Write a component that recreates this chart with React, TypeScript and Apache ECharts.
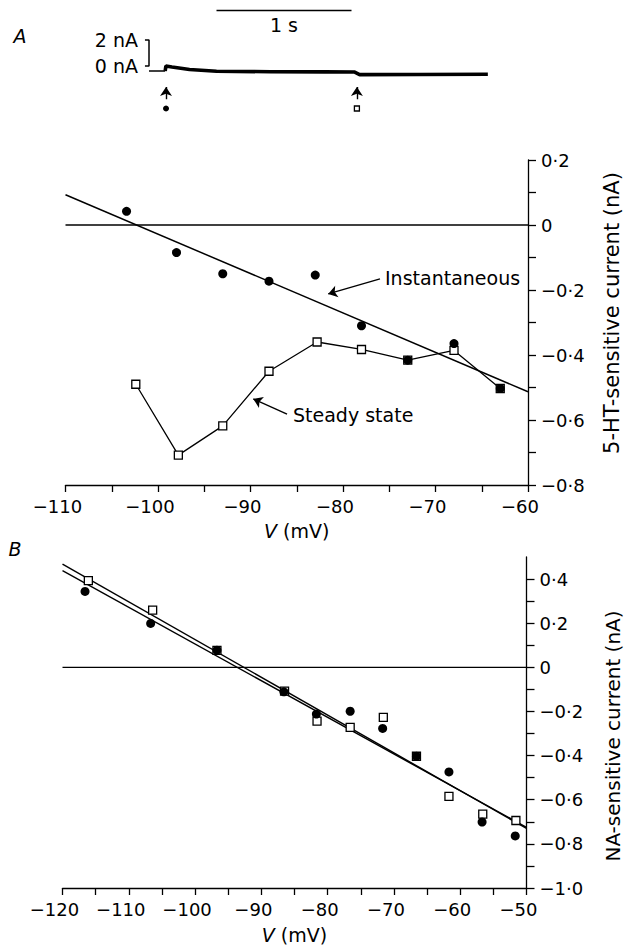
import React, { useEffect, useRef } from 'react';
import * as echarts from 'echarts';

// ---------- Inset current trace (time in s, current in nA) ----------
const traceBaseline = [[0, -0.38], [0.12, -0.38]];
const traceBody = [
  [0.12, -0.38], [0.125, 0.0], [0.17, -0.08], [0.3, -0.27], [0.5, -0.4], [0.9, -0.44],
  [1.3, -0.45], [1.52, -0.46], [1.56, -0.66], [2.0, -0.65], [2.51, -0.63],
];
const scaleBar = [[0.5, 4.27], [1.5, 4.27]];
const bracket = [[-0.03, 2], [0, 2], [0, 0], [-0.03, 0]];
const eventTimes = [0.126, 1.54];
const eventArrowFrom = -2.55;
const eventArrowTo = -1.62;
const eventMarkerLevel = -3.27;

// ---------- Panel A: 5-HT-sensitive current ----------
const vInstA = [-103.4, -98, -93, -88, -83, -78, -73, -68, -63];
const iInstA = [0.042, -0.085, -0.15, -0.173, -0.154, -0.31, -0.416, -0.365, -0.503];
const vSteadyA = [-102.4, -97.8, -93, -88, -82.8, -78, -73, -68, -63];
const iSteadyA = [-0.49, -0.708, -0.618, -0.45, -0.36, -0.383, -0.416, -0.386, -0.503];
const fitA = [[-110, 0.093], [-60, -0.513]];
const arrowInstA = [[-76.0, -0.166], [-81.6, -0.212]];
const arrowSteadyA = [[-86.05, -0.582], [-89.7, -0.535]];

// ---------- Panel B: NA-sensitive current ----------
const vCircB = [-116.6, -106.7, -96.7, -86.6, -81.7, -76.6, -71.7, -66.6, -61.7, -56.7, -51.7];
const iCircB = [0.344, 0.199, 0.077, -0.111, -0.212, -0.199, -0.277, -0.403, -0.474, -0.701, -0.764];
const vSqB = [-116.1, -106.4, -96.7, -86.5, -81.6, -76.6, -71.6, -66.6, -61.7, -56.6, -51.6];
const iSqB = [0.393, 0.259, 0.077, -0.108, -0.244, -0.272, -0.227, -0.403, -0.585, -0.665, -0.694];
const fitSqB = [[-120, 0.468], [-50, -0.73]];
const fitCircB = [[-120, 0.438], [-50, -0.725]];

// ---------- Axis ticks / labels ----------
const xTicksA = [-110, -105, -100, -95, -90, -85, -80, -75, -70, -65, -60];
const xLabelsA = [-110, -100, -90, -80, -70, -60];
const yTicksA = [-0.8, -0.7, -0.6, -0.5, -0.4, -0.3, -0.2, -0.1, 0, 0.1, 0.2];
const yLabelsA = [-0.8, -0.6, -0.4, -0.2, 0, 0.2];
const xTicksB = [-120, -115, -110, -105, -100, -95, -90, -85, -80, -75, -70, -65, -60, -55, -50];
const xLabelsB = [-120, -110, -100, -90, -80, -70, -60, -50];
const yTicksB = [-1.0, -0.9, -0.8, -0.7, -0.6, -0.5, -0.4, -0.3, -0.2, -0.1, 0, 0.1, 0.2, 0.3, 0.4];
const yLabelsB = [-1.0, -0.8, -0.6, -0.4, -0.2, 0, 0.2, 0.4];

const FONT = '"DejaVu Sans", "Liberation Sans", Arial, sans-serif';
const BLACK = '#000';

const fmtNum = (v: number, d: number) => {
  if (Math.abs(v) < 1e-9) return '0';
  return v.toFixed(d).replace('-', '\u2212').replace('.', '\u00b7');
};

const zip = (xs: number[], ys: number[]) => xs.map((x, i) => [x, ys[i]]);

const lineW = { color: BLACK, width: 1.3 };

function xAxisFor(gridIndex: number, min: number, max: number, ticks: number[], labels: number[], nameGap: number) {
  return {
    gridIndex, type: 'value', min, max, position: 'bottom',
    axisLine: { show: true, onZero: false, lineStyle: lineW },
    axisTick: { show: true, customValues: ticks, length: 7, lineStyle: lineW },
    axisLabel: {
      customValues: labels, formatter: (v: number) => fmtNum(v, 0),
      color: BLACK, fontSize: 18, fontFamily: FONT, margin: 12, padding: [0, 16, 0, 0],
    },
    splitLine: { show: false },
    name: '{i|V} (mV)', nameLocation: 'middle', nameGap,
    nameTextStyle: {
      color: BLACK, fontSize: 19, fontFamily: FONT,
      rich: { i: { fontStyle: 'italic', fontSize: 19, fontFamily: FONT, color: BLACK } },
    },
  };
}

function yAxisFor(gridIndex: number, min: number, max: number, ticks: number[], labels: number[]) {
  return {
    gridIndex, type: 'value', min, max, position: 'right',
    axisLine: { show: true, onZero: false, lineStyle: lineW },
    axisTick: { show: true, customValues: ticks, length: 8, lineStyle: lineW },
    axisLabel: {
      customValues: labels, formatter: (v: number) => fmtNum(v, 1),
      color: BLACK, fontSize: 18, fontFamily: FONT, margin: 13,
    },
    splitLine: { show: false },
  };
}

const plainLine = (xi: number, data: number[][], width = 1.3, z = 1) => ({
  type: 'line', xAxisIndex: xi, yAxisIndex: xi, data, symbol: 'none', silent: true, z,
  lineStyle: { color: BLACK, width },
});

const arrow = (xi: number, from: number[], to: number[]) => ({
  type: 'lines', coordinateSystem: 'cartesian2d', xAxisIndex: xi, yAxisIndex: xi,
  symbol: ['none', 'arrow'], symbolSize: 9, silent: true, z: 4,
  lineStyle: { color: BLACK, width: 1.4, opacity: 1 },
  data: [{ coords: [from, to] }],
});

const circles = (xi: number, data: number[][]) => ({
  type: 'scatter', xAxisIndex: xi, yAxisIndex: xi, data, symbol: 'circle', symbolSize: 9,
  itemStyle: { color: BLACK, opacity: 1 }, z: 5, silent: true,
});

const squares = (xi: number, data: number[][]) => ({
  type: 'scatter', xAxisIndex: xi, yAxisIndex: xi, data, symbol: 'rect', symbolSize: 8,
  itemStyle: { color: '#fff', borderColor: BLACK, borderWidth: 1.3, opacity: 1 }, z: 4, silent: true,
});

const txt = (text: string, x: number, y: number, opts: any = {}) => ({
  type: 'text', x, y, rotation: opts.rotation || 0, silent: true,
  style: {
    text, fill: BLACK, fontFamily: FONT, fontSize: opts.fontSize || 19,
    fontStyle: opts.fontStyle || 'normal', align: opts.align || 'left', verticalAlign: 'middle',
  },
});

const option: any = {
  animation: false,
  backgroundColor: '#fff',
  grid: [
    { left: 135.5, top: 7.5, width: 364.5, height: 104, outerBoundsMode: 'none' },
    { left: 65.5, top: 160, width: 462.5, height: 325, outerBoundsMode: 'none' },
    { left: 62.5, top: 557, width: 464, height: 331, outerBoundsMode: 'none' },
  ],
  xAxis: [
    { gridIndex: 0, type: 'value', min: -0.1, max: 2.6, show: false },
    xAxisFor(1, -110, -60, xTicksA, xLabelsA, 36),
    xAxisFor(2, -120, -50, xTicksB, xLabelsB, 37),
  ],
  yAxis: [
    { gridIndex: 0, type: 'value', min: -3.5, max: 4.5, show: false },
    yAxisFor(1, -0.8, 0.2, yTicksA, yLabelsA),
    yAxisFor(2, -1.0, 0.5, yTicksB, yLabelsB),
  ],
  series: [
    // inset
    plainLine(0, traceBaseline, 1.5),
    plainLine(0, traceBody, 3.6),
    plainLine(0, scaleBar, 1.5),
    plainLine(0, bracket, 1.5),
    ...eventTimes.map((t) => arrow(0, [t, eventArrowFrom], [t, eventArrowTo])),
    { ...circles(0, [[eventTimes[0], eventMarkerLevel]]), symbolSize: 6 },
    { ...squares(0, [[eventTimes[1], eventMarkerLevel]]), symbolSize: 5 },
    // panel A
    plainLine(1, [[-110, 0], [-60, 0]], 1.3),
    plainLine(1, fitA, 1.5),
    {
      type: 'line', xAxisIndex: 1, yAxisIndex: 1, data: zip(vSteadyA, iSteadyA),
      symbol: 'rect', symbolSize: 8, showAllSymbol: true, z: 3, silent: true,
      lineStyle: { color: BLACK, width: 1.3 },
      itemStyle: { color: '#fff', borderColor: BLACK, borderWidth: 1.3 },
    },
    circles(1, zip(vInstA, iInstA)),
    arrow(1, arrowInstA[0], arrowInstA[1]),
    arrow(1, arrowSteadyA[0], arrowSteadyA[1]),
    // panel B
    plainLine(2, [[-120, 0], [-50, 0]], 1.3),
    plainLine(2, fitSqB, 1.4),
    plainLine(2, fitCircB, 1.4),
    squares(2, zip(vSqB, iSqB)),
    circles(2, zip(vCircB, iCircB)),
  ],
  graphic: [
    txt('A', 20, 36, { fontStyle: 'italic', fontSize: 19, align: 'center' }),
    txt('B', 15, 549, { fontStyle: 'italic', fontSize: 19, align: 'center' }),
    txt('2 nA', 138, 40, { align: 'right', fontSize: 19 }),
    txt('0 nA', 138, 66, { align: 'right', fontSize: 19 }),
    txt('1 s', 284, 25, { align: 'center', fontSize: 19 }),
    txt('Instantaneous', 385, 278, { fontSize: 19 }),
    txt('Steady state', 293, 415, { fontSize: 19 }),
    txt('5-HT-sensitive current (nA)', 612, 313, { rotation: Math.PI / 2, align: 'center', fontSize: 21 }),
    txt('NA-sensitive current (nA)', 613, 736, { rotation: Math.PI / 2, align: 'center', fontSize: 20 }),
  ],
};

export default function App() {
  const ref = useRef<HTMLDivElement>(null);
  useEffect(() => {
    const chart = echarts.init(ref.current as HTMLDivElement, null, { renderer: 'svg' });
    chart.setOption(option);
    return () => chart.dispose();
  }, []);
  return (
    <div
      ref={ref}
      style={{ position: 'absolute', left: 0, top: 0, width: 627, height: 946, background: '#fff' }}
    />
  );
}
